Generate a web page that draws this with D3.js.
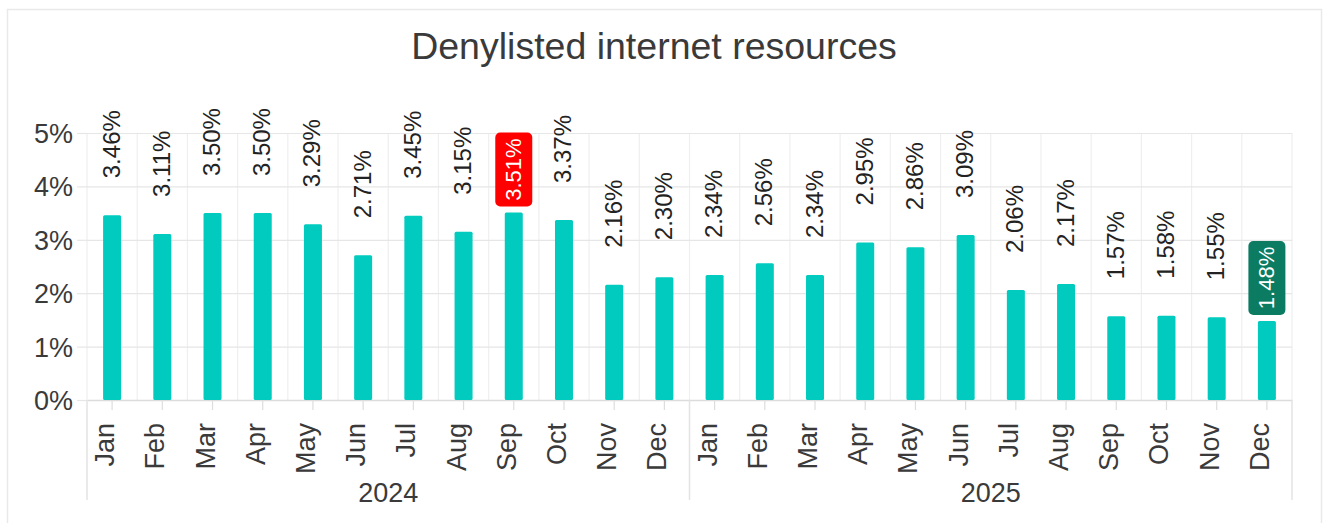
<!DOCTYPE html>
<html>
<head>
<meta charset="utf-8">
<script src="https://cdn.jsdelivr.net/npm/d3@7"></script>
<style>
body{margin:0;background:#fff;}
text{font-family:"Liberation Sans",Arial,sans-serif;}
</style>
</head>
<body>
<div id="chart"></div>
<script>
// data
const years = ["2024", "2025"];
const months = ["Jan","Feb","Mar","Apr","May","Jun","Jul","Aug","Sep","Oct","Nov","Dec"];
const values2024 = [3.46, 3.11, 3.50, 3.50, 3.29, 2.71, 3.45, 3.15, 3.51, 3.37, 2.16, 2.30];
const values2025 = [2.34, 2.56, 2.34, 2.95, 2.86, 3.09, 2.06, 2.17, 1.57, 1.58, 1.55, 1.48];
const yTicks = [0, 1, 2, 3, 4, 5];

let W = 1325, H = 523;
let plotL = 87, plotR = 1292, plotT = 133, plotB = 400;

let rows = [];
[values2024, values2025].forEach((vals, yi) => {
  vals.forEach((v, mi) => rows.push({key: years[yi] + "-" + months[mi], year: years[yi], month: months[mi], v: v}));
});
let maxV = d3.max(rows, d => d.v), minV = d3.min(rows, d => d.v);

let svg = d3.select("#chart").append("svg").attr("width", W).attr("height", H);

// frame
svg.append("rect").attr("x", 7.5).attr("y", 9.5).attr("width", 1314).attr("height", 530)
  .attr("fill", "#fff").attr("stroke", "#e9e9e9").attr("stroke-width", 1.5);

svg.append("text").attr("x", 654).attr("y", 59).attr("text-anchor", "middle")
  .attr("font-size", 37.5).attr("fill", "#3a3a3a").text("Denylisted internet resources");

/*scales*/
let x = d3.scaleBand().domain(rows.map(d => d.key)).range([plotL, plotR]).padding(0);
let y = d3.scaleLinear().domain([0, 5]).range([plotB, plotT]);
let bw = x.bandwidth();

// vertical grid at band edges
svg.append("g").selectAll("line").data(rows.concat([null])).enter().append("line")
  .attr("x1", (d, i) => plotL + i * bw).attr("x2", (d, i) => plotL + i * bw)
  .attr("y1", plotT).attr("y2", plotB)
  .attr("stroke", "#efefef").attr("stroke-width", 1.2);

// y axis
let yAxis = svg.append("g").attr("transform", "translate(" + plotL + ",0)")
  .call(d3.axisLeft(y).tickValues(yTicks).tickFormat(d => d + "%").tickSize(10).tickPadding(4));
yAxis.select(".domain").remove();
yAxis.selectAll(".tick line").clone().attr("x1", 0).attr("x2", plotR - plotL);
yAxis.selectAll(".tick line").attr("stroke", "#e6e6e6").attr("stroke-width", 1.2);
yAxis.selectAll(".tick text").attr("font-size", 27).attr("fill", "#3a3a3a")
  .attr("font-family", "Liberation Sans, Arial, sans-serif").attr("dy", "0.35em");

// x axis: months
let xAxis = svg.append("g").attr("transform", "translate(0," + plotB + ")")
  .call(d3.axisBottom(x).tickFormat(k => k.split("-")[1]).tickSize(10).tickSizeOuter(0));
xAxis.select(".domain").attr("stroke", "#dcdcdc").attr("stroke-width", 1.5);
xAxis.selectAll(".tick line").attr("stroke", "#ddd").attr("stroke-width", 1.2);
xAxis.selectAll(".tick text").attr("font-size", 27).attr("fill", "#3a3a3a")
  .attr("font-family", "Liberation Sans, Arial, sans-serif")
  .attr("text-anchor", "end").attr("dy", null).attr("y", 0)
  .attr("transform", "translate(2,23) rotate(-90)");

// year groups
let yearX = d3.scaleBand().domain(years).range([plotL, plotR]);
svg.append("g").selectAll("line").data(years.concat([null])).enter().append("line")
  .attr("x1", (d, i) => plotL + i * yearX.bandwidth()).attr("x2", (d, i) => plotL + i * yearX.bandwidth())
  .attr("y1", plotB).attr("y2", 500).attr("stroke", "#e3e3e3").attr("stroke-width", 1.5);
svg.append("g").selectAll("text").data(years).enter().append("text")
  .attr("x", d => yearX(d) + yearX.bandwidth() / 2).attr("y", 502)
  .attr("text-anchor", "middle").attr("font-size", 27).attr("fill", "#3a3a3a").text(d => d);

// bars
svg.append("g").selectAll("rect").data(rows).enter().append("rect")
  .attr("x", d => x(d.key) + bw / 2 - 9).attr("width", 18)
  .attr("y", d => y(d.v)).attr("height", d => y(0) - y(d.v))
  .attr("rx", 1.5).attr("fill", "#00cbbe");

// labels
let fmt = v => v.toFixed(2) + "%";
let plain = rows.filter(d => d.v !== maxV && d.v !== minV);
svg.append("g").selectAll("text").data(plain).enter().append("text")
  .attr("transform", d => "translate(" + (x(d.key) + bw / 2 + 7.5) + "," + (y(d.v) - 37) + ") rotate(-90)")
  .attr("font-size", 24).attr("fill", "#222").text(d => fmt(d.v));

let boxed = rows.filter(d => d.v === maxV || d.v === minV);
let bg = svg.append("g").selectAll("g").data(boxed).enter().append("g")
  .attr("transform", d => "translate(" + (x(d.key) + bw / 2) + "," + (y(d.v) - 6) + ")");
bg.append("rect").attr("x", -18.5).attr("y", -74).attr("width", 37).attr("height", 74).attr("rx", 5)
  .attr("fill", d => d.v === maxV ? "#ff0000" : "#0b7c62");
bg.append("text").attr("transform", "translate(7.5,-37) rotate(-90)")
  .attr("text-anchor", "middle").attr("font-size", 22)
  .attr("fill", "#fff").text(d => fmt(d.v));
</script>
</body>
</html>
